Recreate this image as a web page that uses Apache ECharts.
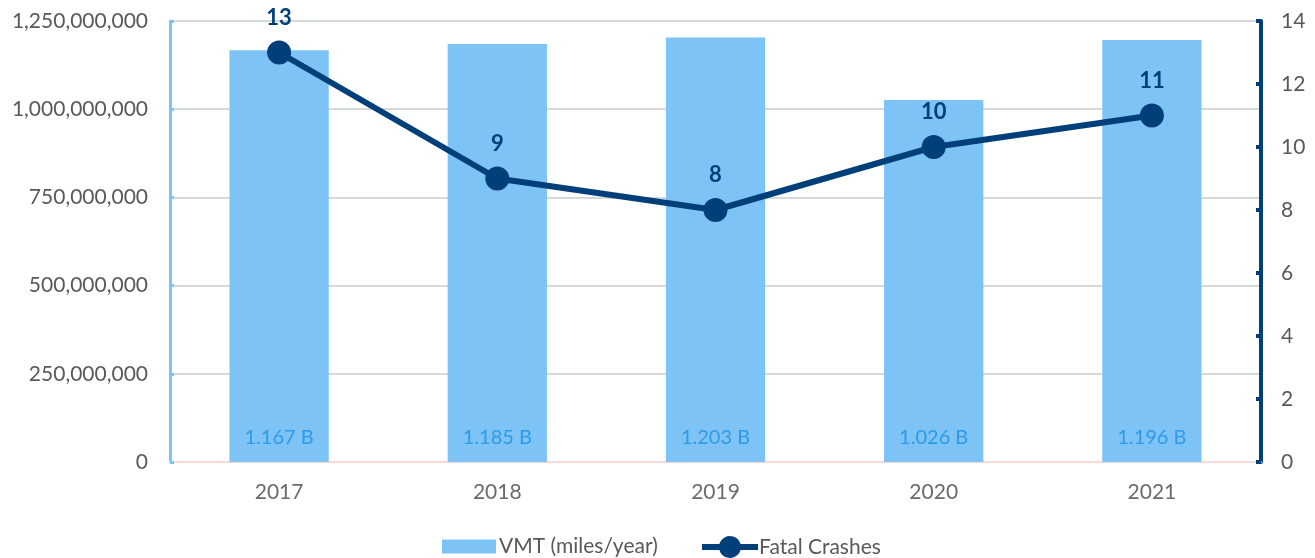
<!DOCTYPE html>
<html><head><meta charset="utf-8">
<script src="https://cdn.jsdelivr.net/npm/echarts@6/dist/echarts.min.js"></script>
<style>html,body{margin:0;padding:0;background:#fff}#c{width:1315px;height:558px}</style>
</head><body><div id="c"></div>
<script>
const categories = ['2017','2018','2019','2020','2021'];
const vmtValues = [1167000000, 1185000000, 1203000000, 1026000000, 1196000000];
const fatalCrashes = [13, 9, 8, 10, 11];
const leftTicks = [0, 250000000, 500000000, 750000000, 1000000000, 1250000000];
const rightTicks = [0, 2, 4, 6, 8, 10, 12, 14];

const FONT = 'Lato, "Open Sans", sans-serif';
const LINE_ICON = 'path://M0,8 L17.42,8 A11,11 0 0,1 38.58,8 L56,8 L56,14 L38.58,14 A11,11 0 0,1 17.42,14 L0,14 Z';
const chart = echarts.init(document.getElementById('c'));
chart.setOption({
  animation: false,
  textStyle: {fontFamily: FONT},
  grid: {left: 170, right: 54, top: 21, bottom: 96},
  legend: [
    {
      left: 437, top: 531, itemWidth: 54, itemHeight: 14, itemGap: 0,
      textStyle: {fontSize: 21, color: '#595959', fontFamily: FONT, padding: [0, 0, 0, -2]},
      data: [{name: 'VMT (miles/year)', icon: 'rect'}]
    },
    {
      left: 697, top: 531, itemWidth: 56, itemHeight: 22,
      textStyle: {fontSize: 21, color: '#595959', fontFamily: FONT, padding: [0, 0, 0, -4]},
      data: [{name: 'Fatal Crashes', icon: LINE_ICON}]
    }
  ],
  xAxis: {
    type: 'category', data: categories,
    axisLine: {lineStyle: {color: '#F9D9DA', width: 2}},
    axisTick: {show: false},
    axisLabel: {fontSize: 21, color: '#6b6b6b', margin: 20}
  },
  yAxis: [
    {
      type: 'value', min: 0, max: 1250000000, interval: 250000000,
      axisLine: {show: true, lineStyle: {color: '#7DC3F5', width: 3}},
      axisTick: {show: true, inside: true, length: 4, lineStyle: {color: '#7DC3F5', width: 3}},
      splitLine: {lineStyle: {color: '#C9CDCD', width: 1.5}},
      axisLabel: {fontSize: 21, color: '#595959', margin: 22,
        formatter: v => v.toLocaleString('en-US')}
    },
    {
      type: 'value', min: 0, max: 14, interval: 2, position: 'right',
      axisLine: {show: true, lineStyle: {color: '#003F7A', width: 4}},
      axisTick: {show: true, inside: true, length: 5, lineStyle: {color: '#003F7A', width: 4}},
      splitLine: {show: false},
      axisLabel: {fontSize: 21, color: '#595959', margin: 20}
    }
  ],
  series: [
    {
      name: 'VMT (miles/year)', type: 'bar', data: vmtValues, barWidth: '45.5%',
      itemStyle: {color: '#7DC3F5'},
      label: {show: true, position: 'insideBottom', distance: 14, fontSize: 20,
        color: '#2E9AEA', formatter: p => (p.value / 1e9).toFixed(3) + ' B'}
    },
    {
      name: 'Fatal Crashes', type: 'line', yAxisIndex: 1, data: fatalCrashes,
      symbol: 'circle', symbolSize: 24,
      lineStyle: {color: '#003F7A', width: 6},
      itemStyle: {color: '#003F7A'},
      label: {show: true, position: 'top', distance: 12, fontSize: 22, fontWeight: 'bold', color: '#003F7A'}
    }
  ]
});
</script></body></html>
